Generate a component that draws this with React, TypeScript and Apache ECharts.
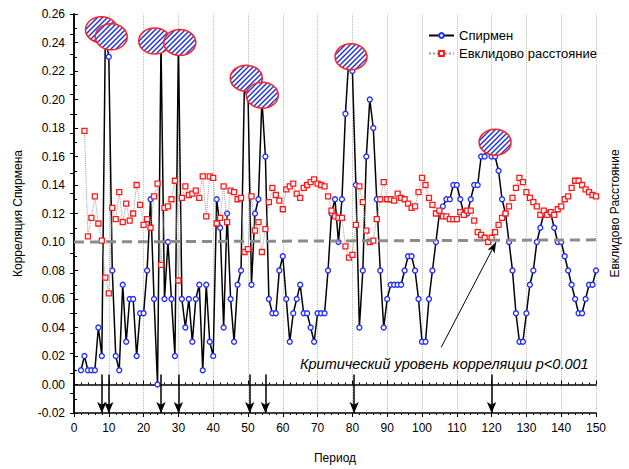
import React, { useEffect, useRef } from "react";
import * as echarts from "echarts";

const FONT = "'Liberation Sans', Arial, sans-serif";

// Period axis (first period of each series)
const spearmanStart = 2;
const euclidStart = 3;

// Spearman correlation by period (2..150)
const spearmanValues = [
  0.01, 0.02, 0.01, 0.01, 0.01, 0.04, 0.02, 0.245, 0.23, 0.08, // 2-11
  0.02, 0.01, 0.07, 0.03, 0.06, 0.06, 0.02, 0.05, 0.05, 0.08, // 12-21
  0.13, 0.06, 0.0, 0.24, 0.06, 0.1, 0.06, 0.02, 0.24, 0.06, // 22-31
  0.04, 0.06, 0.03, 0.06, 0.07, 0.01, 0.07, 0.03, 0.02, 0.13, // 32-41
  0.11, 0.04, 0.12, 0.06, 0.03, 0.07, 0.08, 0.215, 0.205, 0.07, // 42-51
  0.12, 0.13, 0.2, 0.16, 0.06, 0.05, 0.05, 0.08, 0.09, 0.06, // 52-61
  0.03, 0.05, 0.06, 0.07, 0.05, 0.05, 0.04, 0.03, 0.05, 0.05, // 62-71
  0.05, 0.08, 0.12, 0.13, 0.1, 0.13, 0.19, 0.23, 0.22, 0.14, // 72-81
  0.04, 0.08, 0.16, 0.2, 0.18, 0.13, 0.08, 0.04, 0.06, 0.07, // 82-91
  0.07, 0.07, 0.07, 0.08, 0.09, 0.09, 0.08, 0.06, 0.03, 0.03, // 92-101
  0.06, 0.08, 0.1, 0.12, 0.125, 0.13, 0.13, 0.14, 0.14, 0.13, // 102-111
  0.12, 0.12, 0.13, 0.14, 0.14, 0.16, 0.16, 0.17, 0.16, 0.16, // 112-121
  0.15, 0.13, 0.12, 0.1, 0.08, 0.05, 0.03, 0.03, 0.05, 0.07, // 122-131
  0.08, 0.1, 0.11, 0.12, 0.12, 0.12, 0.11, 0.1, 0.1, 0.09, // 132-141
  0.08, 0.07, 0.06, 0.05, 0.05, 0.06, 0.07, 0.07, 0.08, // 142-150
];

// Euclidean distance by period (3..150)
const euclidValues = [
  0.178, 0.104, 0.117, 0.132, 0.113, 0.101, 0.075, 0.064, 0.124, // 3-11
  0.116, 0.135, 0.114, 0.127, 0.115, 0.12, 0.14, 0.126, 0.112, 0.116, // 12-21
  0.11, 0.132, 0.141, 0.084, 0.124, 0.125, 0.13, 0.143, 0.073, 0.131, // 22-31
  0.139, 0.133, 0.134, 0.136, 0.131, 0.146, 0.118, 0.146, 0.145, 0.113, // 32-41
  0.117, 0.139, 0.114, 0.136, 0.135, 0.13, 0.131, 0.093, 0.095, 0.132, // 42-51
  0.108, 0.114, 0.093, 0.109, 0.128, 0.138, 0.133, 0.129, 0.123, 0.137, // 52-61
  0.139, 0.141, 0.134, 0.131, 0.138, 0.14, 0.142, 0.144, 0.141, 0.14, // 62-71
  0.139, 0.132, 0.122, 0.118, 0.117, 0.117, 0.097, 0.089, 0.091, 0.112, // 72-81
  0.139, 0.128, 0.108, 0.1, 0.101, 0.116, 0.13, 0.142, 0.13, 0.13, // 82-91
  0.129, 0.134, 0.131, 0.13, 0.127, 0.124, 0.125, 0.135, 0.145, 0.14, // 92-101
  0.131, 0.126, 0.12, 0.122, 0.118, 0.118, 0.116, 0.116, 0.116, 0.121, // 102-111
  0.119, 0.122, 0.122, 0.115, 0.107, 0.105, 0.103, 0.1, 0.103, 0.107, // 112-121
  0.112, 0.117, 0.12, 0.125, 0.131, 0.138, 0.145, 0.142, 0.135, 0.131, // 122-131
  0.128, 0.125, 0.119, 0.122, 0.119, 0.121, 0.119, 0.123, 0.125, 0.13, // 132-141
  0.132, 0.138, 0.143, 0.143, 0.14, 0.137, 0.135, 0.133, 0.132, // 142-150
];

// Highlighted peaks (period, correlation) marked with hatched ellipses
const peakPeriods = [7.9, 10.7, 23.2, 30.4, 49.5, 54.1, 79.6, 121];
const peakValues = [0.249, 0.244, 0.241, 0.24, 0.215, 0.203, 0.23, 0.17];

// Significant periods marked with arrows at the bottom
const arrowPeriods = [8, 10, 25, 30, 50.5, 55, 80.5, 120];
const arrowTop = 0.007;

// Critical correlation level (dashed line)
const criticalStart = [0, 0.1];
const criticalEnd = [150, 0.1015];
const criticalLabel = "Критический уровень корреляции p<0.001";
const pointerFrom = [105.5, 0.026];
const pointerTo = [121.3, 0.1];

function hatch() {
  const s = 5;
  const c = document.createElement("canvas");
  c.width = s;
  c.height = s;
  const ctx = c.getContext("2d")!;
  ctx.fillStyle = "#ffffff";
  ctx.fillRect(0, 0, s, s);
  ctx.strokeStyle = "#2436d8";
  ctx.lineWidth = 1.5;
  ctx.beginPath();
  ctx.moveTo(0, s);
  ctx.lineTo(s, 0);
  ctx.moveTo(-1, 1);
  ctx.lineTo(1, -1);
  ctx.moveTo(s - 1, s + 1);
  ctx.lineTo(s + 1, s - 1);
  ctx.stroke();
  return { image: c.toDataURL(), repeat: "repeat", imageWidth: s, imageHeight: s };
}

export default function App() {
  const ref = useRef<HTMLDivElement>(null);
  useEffect(() => {
    const chart = echarts.init(ref.current!, null, { renderer: "svg" });
    const spearman = spearmanValues.map((v, i) => [spearmanStart + i, v]);
    const euclid = euclidValues.map((v, i) => [euclidStart + i, v]);
    const peaks = peakPeriods.map((p, i) => [p, peakValues[i]]);
    const pattern = hatch();
    const axisLine = { show: true, lineStyle: { color: "#000", width: 1.5 } };
    const tick = { show: true, inside: true, length: 4, lineStyle: { color: "#000", width: 1 } };
    const option: any = {
      animation: false,
      textStyle: { fontFamily: FONT },
      grid: { left: 74, right: 26, top: 14, bottom: 52, containLabel: false },
      legend: {
        orient: "vertical",
        left: 423,
        top: 24,
        itemWidth: 25,
        itemHeight: 6,
        itemGap: 5,
        data: ["Спирмен", "Евклидово расстояние"],
        textStyle: { fontSize: 13, color: "#000", fontFamily: FONT },
      },
      xAxis: [
        {
          type: "value",
          min: 0,
          max: 150,
          interval: 10,
          position: "bottom",
          axisLine,
          axisTick: tick,
          minorTick: { show: true, splitNumber: 5, length: 2, lineStyle: { color: "#000" } },
          axisLabel: { fontSize: 12, color: "#000", margin: 9, fontFamily: FONT },
          splitLine: { show: true, lineStyle: { color: "#bdbdbd", type: "dotted", width: 1 } },
          name: "Период",
          nameLocation: "middle",
          nameGap: 39,
          nameTextStyle: { fontSize: 12, color: "#000", fontFamily: FONT },
        },
        {
          type: "value",
          min: 0,
          max: 150,
          interval: 10,
          position: "top",
          axisLine,
          axisTick: tick,
          minorTick: { show: true, splitNumber: 5, length: 2, lineStyle: { color: "#000" } },
          axisLabel: { show: false },
          splitLine: { show: false },
        },
      ],
      yAxis: [
        {
          type: "value",
          min: -0.02,
          max: 0.26,
          interval: 0.02,
          position: "left",
          axisLine,
          axisTick: tick,
          minorTick: { show: true, splitNumber: 2, length: 3, lineStyle: { color: "#000" } },
          axisLabel: {
            fontSize: 12,
            color: "#000",
            margin: 9,
            fontFamily: FONT,
            formatter: (v: number) => v.toFixed(2),
          },
          splitLine: { show: false },
          name: "Корреляция Спирмена",
          nameLocation: "middle",
          nameGap: 50,
          nameRotate: 90,
          nameTextStyle: { fontSize: 12, color: "#000", fontFamily: FONT },
        },
        {
          type: "value",
          min: 0,
          max: 20,
          interval: 1,
          position: "right",
          axisLine,
          axisTick: tick,
          axisLabel: { show: false },
          splitLine: { show: false },
          name: "Евклидово Расстояние",
          nameLocation: "middle",
          nameGap: 13,
          nameRotate: 90,
          nameTextStyle: { fontSize: 12, color: "#000", fontFamily: FONT },
        },
      ],
      series: [
        {
          type: "line",
          data: [],
          silent: true,
          z: 1,
          markLine: {
            silent: true,
            symbol: ["none", "none"],
            label: { show: false },
            lineStyle: { color: "#8c8c8c", type: [10, 6], width: 3 },
            data: [[{ coord: criticalStart }, { coord: criticalEnd }]],
          },
        },
        {
          name: "Спирмен",
          type: "line",
          data: spearman,
          symbol: "circle",
          symbolSize: 5,
          showAllSymbol: true,
          itemStyle: { color: "#ffffff", borderColor: "#1f2bff", borderWidth: 1.3 },
          lineStyle: { color: "#000000", width: 1.5 },
          z: 3,
          silent: true,
        },
        {
          name: "Евклидово расстояние",
          type: "line",
          data: euclid,
          symbol: "rect",
          symbolSize: 5,
          showAllSymbol: true,
          itemStyle: { color: "#ffffff", borderColor: "#ff1a1a", borderWidth: 1.3 },
          lineStyle: { color: "#9a9a9a", width: 1, type: "dotted" },
          z: 4,
          silent: true,
        },
        {
          type: "custom",
          data: peaks,
          z: 10,
          silent: true,
          renderItem: (_params: any, api: any) => {
            const p = api.coord([api.value(0), api.value(1)]);
            return {
              type: "ellipse",
              shape: { cx: p[0], cy: p[1], rx: 16, ry: 13 },
              style: { fill: pattern, stroke: "#ff2020", lineWidth: 1.5 },
            };
          },
        },
        {
          type: "line",
          data: [],
          silent: true,
          z: 12,
          markLine: {
            silent: true,
            symbol: ["none", "arrow"],
            symbolSize: [7, 11],
            label: { show: false },
            lineStyle: { color: "#000", type: "solid", width: 1.5 },
            data: [
              ...arrowPeriods.map((p) => [{ coord: [p, arrowTop] }, { coord: [p, -0.02] }]),
              [
                { coord: pointerFrom, lineStyle: { width: 1 } },
                { coord: pointerTo, symbolSize: [6, 11] },
              ],
            ],
          },
        },
      ],
      graphic: [
        {
          type: "text",
          left: 300,
          top: 356,
          style: {
            text: criticalLabel,
            font: `italic 14.5px ${FONT}`,
            fill: "#000",
          },
          z: 20,
        },
      ],
    };
    chart.setOption(option);
    return () => chart.dispose();
  }, []);
  return (
    <div
      ref={ref}
      style={{ position: "fixed", left: 0, top: 0, width: 629, height: 469, background: "#fff" }}
    />
  );
}
